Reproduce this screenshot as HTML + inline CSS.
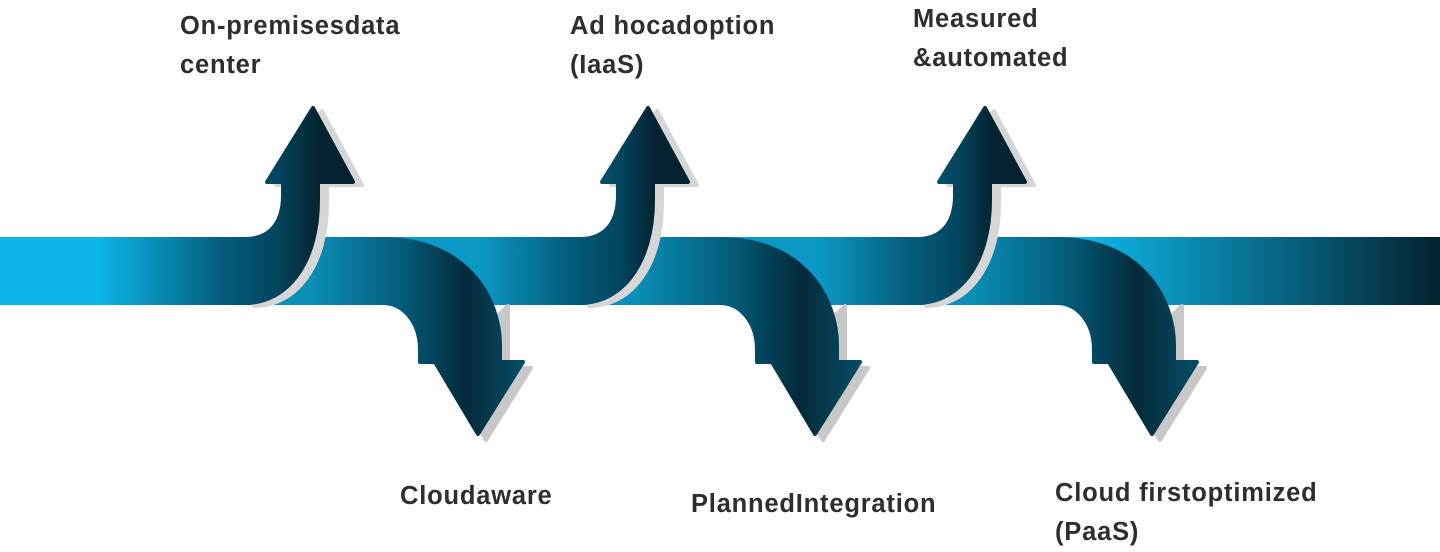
<!DOCTYPE html>
<html><head><meta charset="utf-8"><style>
html,body{margin:0;padding:0;background:#fff;}
body{width:1440px;height:545px;position:relative;overflow:hidden;font-family:"Liberation Sans",sans-serif;}
.t{position:absolute;font-weight:bold;font-size:25.5px;letter-spacing:0.8px;line-height:39px;color:#2e2e2e;white-space:nowrap;}
svg{position:absolute;left:0;top:0;}
</style></head><body>
<svg width="1440" height="545" viewBox="0 0 1440 545">
<defs>
<linearGradient id="gEnd" x1="1090" x2="1440" y1="0" y2="0" gradientUnits="userSpaceOnUse">
<stop offset="0" stop-color="#0db4e6"/><stop offset="1" stop-color="#04222f"/></linearGradient>
</defs>
<g id="all"></g>
</svg>
<script>
(function(){
var ns="http://www.w3.org/2000/svg",g=document.getElementById("all"),defs=document.querySelector("defs");
var id=0;
function grad(stops,x1,x2){var lg=document.createElementNS(ns,"linearGradient");var n="g"+(id++);lg.setAttribute("id",n);lg.setAttribute("gradientUnits","userSpaceOnUse");lg.setAttribute("x1",x1);lg.setAttribute("x2",x2);lg.setAttribute("y1",0);lg.setAttribute("y2",0);stops.forEach(function(s){var st=document.createElementNS(ns,"stop");st.setAttribute("offset",s[0]);st.setAttribute("stop-color",s[1]);lg.appendChild(st);});defs.appendChild(lg);return "url(#"+n+")";}
function path(d,fill,tr,sw){var p=document.createElementNS(ns,"path");p.setAttribute("d",d);p.setAttribute("fill",fill);p.setAttribute("stroke-linejoin","round");p.setAttribute("stroke",fill);p.setAttribute("stroke-width",sw||"4");if(tr)p.setAttribute("transform",tr);g.appendChild(p);}
function up(T,xs,gx,first){var xc=T-68;
var d="M"+xs+",239 L"+xc+",239 C"+(T-48)+",239 "+(T-30)+",228 "+(T-30)+",195 L"+(T-30)+",182 L"+(T-46)+",182 L"+T+",108 L"+(T+40)+",182 L"+(T+5)+",182 L"+(T+5)+",200 C"+(T+5)+",262 "+(T-25)+",303 "+xc+",303 L"+xs+",303 Z";
var sh="M"+(T-20)+",240 L"+(T-30)+",182 L"+(T-46)+",182 L"+T+",108 L"+(T+40)+",182 L"+(T+5)+",182 L"+(T+5)+",200 C"+(T+5)+",262 "+(T-25)+",303 "+xc+",303 Z";
path(sh,"#d6d6d6","translate(9,3)");
var fill=first?grad([[0,"#0db4e6"],[0.55,"#055e7e"],[0.8,"#03455e"],[1,"#04222f"]],gx,T+8)
 :grad([[0,"#0b98c4"],[0.5,"#055e7e"],[0.8,"#03455e"],[1,"#04222f"]],gx,T+8);
path(d,fill);}
function down(D,xs,gx){var xc=D-95;
var d="M"+xs+",239 L"+xc+",239 C"+(D-10)+",239 "+(D+22)+",300 "+(D+22)+",345 L"+(D+22)+",362 L"+(D+45)+",362 L"+D+",434 L"+(D-43)+",362 L"+(D-58)+",362 L"+(D-58)+",350 C"+(D-58)+",322 "+(D-75)+",303 "+xc+",303 L"+xs+",303 Z";
var sh="M"+(D+22)+",300 L"+(D+22)+",362 L"+(D+45)+",362 L"+D+",434 L"+(D-43)+",362 Z";
path(sh,"#c8c8c8","translate(8,6)");
path(d,grad([[0,"#0a8fb8"],[0.45,"#055a78"],[0.75,"#032a3a"],[1,"#064a62"]],gx,D+40));}
path("M1040,239 L1442,239 L1442,303 L1040,303 Z","url(#gEnd)");
down(1152,880,970);
up(985,720,820);
down(815,540,635);
up(648,380,480);
down(478,210,310);
up(313,0,100,true);
})();
</script>
<div class="t" style="left:180px;top:7px;">On-premisesdata<br>center</div>
<div class="t" style="left:570px;top:7px;">Ad hocadoption<br>(IaaS)</div>
<div class="t" style="left:913px;top:0px;">Measured<br>&amp;automated</div>
<div class="t" style="left:400px;top:477px;">Cloudaware</div>
<div class="t" style="left:691px;top:485px;">PlannedIntegration</div>
<div class="t" style="left:1055px;top:474px;">Cloud firstoptimized<br>(PaaS)</div>
</body></html>
